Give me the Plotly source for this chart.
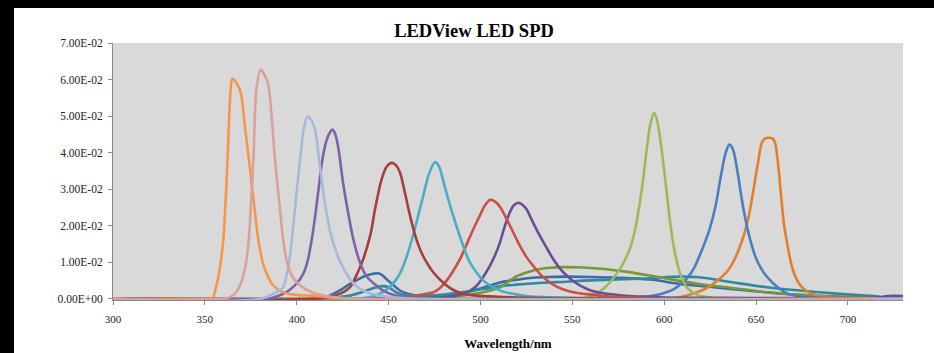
import plotly.graph_objects as go

# ---------------- data ----------------
tick_vals_y = [0.0, 0.01, 0.02, 0.03, 0.04, 0.05, 0.06, 0.07]
tick_text_y = ["0.00E+00", "1.00E-02", "2.00E-02", "3.00E-02",
               "4.00E-02", "5.00E-02", "6.00E-02", "7.00E-02"]
tick_vals_x = [300, 350, 400, 450, 500, 550, 600, 650, 700]

# broad white-LED spectra
wl_blue_broad = [300, 410, 418, 424, 429, 434, 438, 441.5, 444.4, 446.5, 448.9, 452.5, 456.2, 460, 465.3, 475, 483,
                 492.5, 501, 510.6, 519, 528.8, 538, 546.9, 560, 574, 592, 608.9, 627, 645.2, 663.4, 681.5, 699.6,
                 715, 725, 730]
sp_blue_broad = [0, 0, 0.0009, 0.0025, 0.0041, 0.0055, 0.0064, 0.0069, 0.0070, 0.0065, 0.0054, 0.0038, 0.0023, 0.0015,
                 0.0009, 0.0007, 0.0010, 0.0018, 0.0030, 0.0045, 0.0052, 0.0058, 0.0060, 0.0061, 0.0060, 0.0058,
                 0.0053, 0.0041, 0.0032, 0.0023, 0.0014, 0.0009, 0.0005, 0.0002, 0, 0]

wl_teal = [300, 415, 422, 429, 434, 438, 443, 447, 450, 453.5, 457, 463, 470, 480, 490, 501.4, 510.6, 519.5, 530,
           537.8, 546.9, 555.9, 574, 590.8, 608.9, 619, 637.6, 655.7, 673.9, 692, 710, 716, 719, 725, 730]
sp_teal = [0, 0, 0.0004, 0.0009, 0.0016, 0.0023, 0.0031, 0.0035, 0.0032, 0.0020, 0.0013, 0.0009, 0.0009, 0.0012,
           0.0018, 0.0027, 0.0035, 0.0039, 0.0043, 0.0045, 0.0047, 0.0050, 0.0053, 0.0056, 0.0061, 0.0059, 0.0045,
           0.0032, 0.0023, 0.0015, 0.0009, 0.0007, 0.0002, 0, 0]

wl_olive = [300, 470, 483.4, 492, 501.4, 510.6, 519.7, 528.8, 537.8, 546, 555.9, 568.7, 580, 592.2, 610, 620, 637,
            656, 674, 690, 705, 715, 722, 730]
sp_olive = [0, 0, 0.0005, 0.0010, 0.0018, 0.0032, 0.0062, 0.0078, 0.0085, 0.0087, 0.0086, 0.0081, 0.0074, 0.0064,
            0.0048, 0.0040, 0.0030, 0.0018, 0.0011, 0.0007, 0.0004, 0.0002, 0, 0]

# narrow-band LEDs
wl_orange2 = [300, 600, 608.9, 616, 623.4, 630, 634.3, 638, 641, 643.6, 646, 648.5, 651, 653.2, 655, 657, 659,
              660.3, 662, 663.5, 665.2, 667, 670, 673, 676, 683, 691, 700, 710, 730]
sp_orange2 = [0, 0, 0.0005, 0.0015, 0.0030, 0.0055, 0.0075, 0.0105, 0.0140, 0.0178, 0.0225, 0.0295, 0.0370, 0.0428,
              0.0439, 0.0441, 0.0439, 0.0428, 0.0370, 0.0290, 0.0205, 0.0150, 0.0080, 0.0045, 0.0027, 0.0009,
              0.0004, 0.0001, 0, 0]

wl_blue = [300, 575, 585, 594.4, 600, 605.3, 609, 612.5, 616, 619, 622, 625, 628, 631, 633.5, 635.5, 637.5, 640,
           642.5, 645.2, 647.5, 650.5, 655.7, 663, 668, 676, 690, 700, 730]
sp_blue = [0, 0, 0.0004, 0.0009, 0.0016, 0.0027, 0.0040, 0.0057, 0.0082, 0.0115, 0.0152, 0.0195, 0.0255, 0.0340,
           0.0400, 0.0422, 0.0408, 0.0345, 0.0265, 0.0195, 0.0150, 0.0105, 0.0062, 0.0027, 0.0013, 0.0005,
           0.0001, 0, 0]

wl_green = [300, 550, 556, 561.4, 565, 568.7, 572.5, 576, 579, 581.4, 583.5, 585.5, 588, 590.4, 592.5, 594.6, 596.5,
            598.6, 601.3, 603.5, 606, 609, 613, 618, 625, 640, 730]
sp_green = [0, 0, 0.0002, 0.0009, 0.0020, 0.0036, 0.0058, 0.0082, 0.0110, 0.0138, 0.0175, 0.0225, 0.0305, 0.0405,
            0.0478, 0.0509, 0.0480, 0.0409, 0.0295, 0.0200, 0.0122, 0.0065, 0.0028, 0.0011, 0.0004, 0, 0]

wl_purple2 = [300, 460, 472, 481.6, 490.6, 494.5, 497.9, 501.5, 505.2, 508, 510.6, 513, 515.2, 518, 520.6, 523,
              525.1, 528.5, 532.3, 536, 539.6, 543, 546.9, 551, 555.9, 560, 565, 572.7, 583, 600, 620, 700, 715,
              722, 730]
sp_purple2 = [0, 0, 0.0002, 0.0005, 0.0014, 0.0023, 0.0036, 0.0060, 0.0091, 0.0120, 0.0154, 0.0195, 0.0227, 0.0255,
              0.0263, 0.0257, 0.0245, 0.0210, 0.0173, 0.0140, 0.0109, 0.0085, 0.0064, 0.0047, 0.0032, 0.0023,
              0.0017, 0.0012, 0.0007, 0.0004, 0.0003, 0.0002, 0.0004, 0.0008, 0.0008]

wl_red = [300, 440, 457, 466, 474.3, 478, 481.6, 485, 488.8, 491.5, 494.3, 497, 499.7, 502.5, 505.4, 508, 510.6,
          513.3, 516.1, 518.8, 521.5, 525, 528.8, 533, 537.8, 542, 546.9, 552, 557.8, 565, 575, 590, 610, 730]
sp_red = [0, 0, 0.0005, 0.0010, 0.0018, 0.0030, 0.0050, 0.0075, 0.0108, 0.0138, 0.0170, 0.0200, 0.0228, 0.0256,
          0.0271, 0.0266, 0.0252, 0.0228, 0.0200, 0.0172, 0.0145, 0.0115, 0.0090, 0.0065, 0.0045, 0.0032, 0.0023,
          0.0017, 0.0013, 0.0009, 0.0005, 0.0002, 0, 0]

wl_cyan = [300, 430, 440, 446, 450, 454, 457, 460, 463, 466, 469, 472, 475.2, 477.5, 479.8, 482.5, 485.2,
           490.6, 494, 497.9, 502, 507, 512, 517.9, 525, 534.2, 550, 570, 730]
sp_cyan = [0, 0, 0.0005, 0.0016, 0.0030, 0.0052, 0.0078, 0.0118, 0.0168, 0.0225, 0.0285, 0.0342, 0.0374, 0.0362,
           0.0322, 0.0272, 0.0227, 0.0145, 0.0102, 0.0072, 0.0048, 0.0032, 0.0020, 0.0014, 0.0008, 0.0005, 0.0002,
           0, 0]

wl_darkred = [300, 410, 418, 424, 429, 433, 436.2, 440.3, 442.6, 446.2, 449, 451.7, 454, 456.2, 458.9, 461.8,
              464.4, 467, 470, 474.3, 479.8, 485, 490, 498, 520, 560, 580, 730]
sp_darkred = [0, 0, 0.0005, 0.0015, 0.0032, 0.0070, 0.0109, 0.0180, 0.0245, 0.0327, 0.0362, 0.0372, 0.0366, 0.0346,
              0.0290, 0.0225, 0.0175, 0.0137, 0.0106, 0.0073, 0.0044, 0.0025, 0.0015, 0.0009, 0.0004, 0.0002, 0, 0]

wl_purple = [300, 383.6, 388, 392.7, 396.3, 401.8, 404.5, 406, 408.2, 410, 412, 413.5, 415.4, 417.5, 419.5, 421,
             422.6, 425.3, 428, 430.5, 434.4, 438, 443.5, 448, 454.4, 466, 480, 730]
sp_purple = [0, 0, 0.0005, 0.0014, 0.0025, 0.0054, 0.0080, 0.0105, 0.0163, 0.0225, 0.0305, 0.0365, 0.0418, 0.0450,
             0.0463, 0.0450, 0.0415, 0.0315, 0.0236, 0.0170, 0.0100, 0.0062, 0.0036, 0.0020, 0.0009, 0.0002, 0, 0]

wl_orange = [300, 350, 354, 356, 358, 360, 362, 364, 365, 367, 369.5, 371.8, 374.6, 377.3, 379, 381.5, 384, 387,
             392.5, 400, 410, 420, 430, 730]
sp_orange = [0, 0, 0.0002, 0.0030, 0.0080, 0.0160, 0.0340, 0.0570, 0.0602, 0.0592, 0.0565, 0.0472, 0.0354, 0.0236,
             0.0165, 0.0100, 0.0065, 0.0038, 0.0018, 0.0011, 0.0008, 0.0003, 0, 0]

wl_lightblue = [300, 380, 387.2, 392.7, 394, 395.5, 397.3, 399, 401.8, 404, 405.9, 407.8, 409.9, 411.5, 412.7,
                415.4, 418.4, 422, 425.3, 430, 434.4, 440, 445.3, 455, 470, 730]
sp_lightblue = [0, 0, 0.0014, 0.0032, 0.0055, 0.0090, 0.0160, 0.0245, 0.0380, 0.0470, 0.0498, 0.0490, 0.0465, 0.0410,
                0.0360, 0.0260, 0.0180, 0.0122, 0.0085, 0.0047, 0.0028, 0.0015, 0.0009, 0.0003, 0, 0]

wl_pink = [300, 360, 363.7, 366.5, 369, 371.5, 373.6, 375, 376.4, 378.2, 380.4, 382.5, 384.5, 386.5, 388.2, 390.9,
           392.7, 395, 397.5, 400, 405, 410, 420, 430, 715]
sp_pink = [0, 0, 0.0005, 0.0015, 0.0036, 0.0075, 0.0145, 0.0250, 0.0380, 0.0580, 0.0627, 0.0612, 0.0586, 0.0490,
           0.0380, 0.0245, 0.0158, 0.0095, 0.0062, 0.0045, 0.0026, 0.0015, 0.0005, 0, 0]

series = [
    (wl_blue_broad, sp_blue_broad, "#3A6CA8"),
    (wl_teal, sp_teal, "#2F89A0"),
    (wl_olive, sp_olive, "#77973D"),
    (wl_orange2, sp_orange2, "#E37E2C"),
    (wl_blue, sp_blue, "#4A7EBF"),
    (wl_green, sp_green, "#9BBB59"),
    (wl_purple2, sp_purple2, "#6A4E93"),
    (wl_red, sp_red, "#CC4E48"),
    (wl_cyan, sp_cyan, "#4BACC6"),
    (wl_darkred, sp_darkred, "#A63E3B"),
    (wl_purple, sp_purple, "#7E62A6"),
    (wl_orange, sp_orange, "#F79646"),
    (wl_lightblue, sp_lightblue, "#A7B9DB"),
    (wl_pink, sp_pink, "#D9A09E"),
]

# ---------------- figure ----------------
fig = go.Figure()
for wl, sp, col in series:
    fig.add_trace(go.Scatter(x=wl, y=sp, mode="lines",
                             line=dict(color=col, width=2.6, shape="spline", smoothing=0.9),
                             showlegend=False, hoverinfo="skip"))

serif = "Liberation Serif, Times New Roman, serif"
W, H = 934, 353
L, R, T, B = 113, 31, 43, 53
pw, ph = W - L - R, H - T - B

fig.update_layout(
    width=W, height=H,
    margin=dict(l=L, r=R, t=T, b=B, pad=0, autoexpand=False),
    paper_bgcolor="white",
    plot_bgcolor="#D9D9D9",
    font=dict(family=serif, color="#222222"),
    title=dict(text="LEDView LED SPD", x=474 / W, xref="container", xanchor="center",
               y=1 - 31 / H, yref="container", yanchor="middle",
               font=dict(family=serif, size=18.5, color="black", weight="bold")),
    xaxis=dict(range=[300, 730], tickmode="array", tickvals=tick_vals_x, automargin=False,
               ticks="outside", ticklen=4, tickcolor="#8A8A8A", showgrid=False, zeroline=False,
               showline=True, linecolor="#8A8A8A", linewidth=1, ticklabelstandoff=5,
               tickfont=dict(family=serif, size=11, color="#222222"),
               title=dict(text="Wavelength/nm", standoff=14,
                          font=dict(family=serif, size=13, color="black", weight="bold"))),
    yaxis=dict(range=[-0.0003, 0.07], tickmode="array", tickvals=tick_vals_y, ticktext=tick_text_y,
               automargin=False,
               ticks="outside", ticklen=4, tickcolor="#8A8A8A", showgrid=False, zeroline=False,
               showline=True, linecolor="#8A8A8A", linewidth=1, ticklabelstandoff=3,
               tickfont=dict(family=serif, size=11.5, color="#222222")),
    shapes=[
        dict(type="rect", xref="paper", yref="paper", x0=-0.3, x1=1.2,
             y0=1 + (T - 8) / ph, y1=1 + (T + 5) / ph,
             fillcolor="black", line=dict(width=0), layer="above"),
        dict(type="rect", xref="paper", yref="paper", x0=-(L + 5) / pw, x1=-(L - 14) / pw,
             y0=-(B + 5) / ph, y1=1 + (T + 5) / ph,
             fillcolor="black", line=dict(width=0), layer="above"),
    ],
)

fig.write_html("out.html")
